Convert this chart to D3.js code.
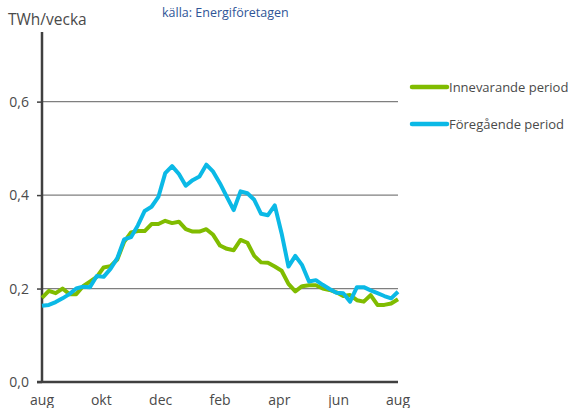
<!DOCTYPE html>
<html>
<head>
<meta charset="utf-8">
<script src="https://cdn.jsdelivr.net/npm/d3@7"></script>
<style>
  body { margin: 0; background: #fff; }
  text { font-family: "Open Sans", sans-serif; }
</style>
</head>
<body>
<svg id="chart" width="568" height="408"></svg>
<script>
// weekly values, aug -> aug
const monthLabels = ['aug', 'okt', 'dec', 'feb', 'apr', 'jun', 'aug'];
const yTicks = [0, 0.2, 0.4, 0.6];

const innevarande = [
  0.180, 0.195, 0.190, 0.200, 0.188, 0.188, 0.205, 0.215, 0.225, 0.245,
  0.248, 0.262, 0.300, 0.320, 0.323, 0.323, 0.338, 0.338, 0.345, 0.340,
  0.343, 0.327, 0.322, 0.322, 0.327, 0.315, 0.292, 0.285, 0.282, 0.304,
  0.298, 0.270, 0.256, 0.255, 0.247, 0.238, 0.210, 0.194, 0.205, 0.207,
  0.207, 0.200, 0.197, 0.192, 0.184, 0.186, 0.175, 0.172, 0.186, 0.165,
  0.165, 0.168, 0.177
];
const foregaende = [
  0.163, 0.165, 0.171, 0.179, 0.188, 0.200, 0.204, 0.203, 0.227, 0.225,
  0.242, 0.265, 0.305, 0.310, 0.335, 0.366, 0.375, 0.396, 0.447, 0.462,
  0.445, 0.420, 0.432, 0.440, 0.465, 0.450, 0.425, 0.396, 0.368, 0.408,
  0.404, 0.390, 0.360, 0.357, 0.378, 0.318, 0.247, 0.270, 0.250, 0.215,
  0.218, 0.208, 0.199, 0.191, 0.190, 0.172, 0.203, 0.203, 0.196, 0.190,
  0.184, 0.179, 0.193
];

const series = [
  { name: 'Innevarande period', values: innevarande, color: '#80bc00' },
  { name: 'Föregående period', values: foregaende, color: '#0bb9e6' }
];

const svg = d3.select('#chart');
const plot = { left: 42, right: 398, top: 32, bottom: 382 };
const textColor = '#4a4a4a';

const x = d3.scaleLinear().domain([0, innevarande.length - 1]).range([plot.left, plot.right]);
const xMonth = d3.scalePoint().domain(d3.range(monthLabels.length)).range([plot.left, plot.right]);
const y = d3.scaleLinear().domain([0, 0.749]).range([plot.bottom, plot.top]);

// gridlines
svg.append('g')
  .selectAll('line')
  .data(yTicks.filter(d => d > 0))
  .enter().append('line')
    .attr('x1', plot.left).attr('x2', plot.right)
    .attr('y1', d => y(d)).attr('y2', d => y(d))
    .style('stroke', '#7f7f7f')
    .style('stroke-width', 1.3);

// y axis
const yAxis = svg.append('g')
  .attr('transform', 'translate(' + plot.left + ',0)')
  .call(d3.axisLeft(y).tickValues(yTicks).tickSize(5).tickPadding(8)
    .tickFormat(d => d3.format('.1f')(d).replace('.', ',')));
yAxis.select('.domain').remove();
yAxis.selectAll('.tick line').style('stroke', '#404040').style('stroke-width', 1.5);
yAxis.selectAll('.tick text')
  .style('font-size', '14px').style('fill', textColor)
  .style('font-family', '"Open Sans", sans-serif');

svg.append('line')
  .attr('x1', plot.left).attr('x2', plot.left)
  .attr('y1', plot.top).attr('y2', plot.bottom + 1)
  .style('stroke', '#404040').style('stroke-width', 2.5);

// x axis
svg.append('line')
  .attr('x1', plot.left - 5).attr('x2', plot.right)
  .attr('y1', plot.bottom).attr('y2', plot.bottom)
  .style('stroke', '#404040').style('stroke-width', 2.5);

svg.append('g')
  .selectAll('text')
  .data(monthLabels)
  .enter().append('text')
    .attr('x', (d, i) => xMonth(i))
    .attr('y', 405)
    .attr('text-anchor', 'middle')
    .style('font-size', '14px')
    .style('fill', textColor)
    .text(d => d);

// lines
const line = d3.line()
  .x((d, i) => x(i))
  .y(d => y(d));

svg.append('g')
  .selectAll('path')
  .data(series)
  .enter().append('path')
    .attr('d', d => line(d.values))
    .style('fill', 'none')
    .style('stroke', d => d.color)
    .style('stroke-width', 4)
    .style('stroke-linejoin', 'round');

// legend
const legend = svg.append('g')
  .selectAll('g')
  .data(series)
  .enter().append('g')
    .attr('transform', (d, i) => 'translate(412,' + (87 + i * 37) + ')');
legend.append('line')
  .attr('x1', 0).attr('x2', 35)
  .style('stroke', d => d.color)
  .style('stroke-width', 4.5)
  .style('stroke-linecap', 'round');
legend.append('text')
  .attr('x', 37).attr('y', 5)
  .style('font-size', '13px')
  .style('fill', textColor)
  .text(d => d.name);

// titles
svg.append('text')
  .attr('x', 8).attr('y', 25)
  .style('font-size', '15.5px')
  .style('fill', textColor)
  .text('TWh/vecka');

svg.append('text')
  .attr('x', 162).attr('y', 17)
  .style('font-size', '12.5px')
  .style('fill', '#2f5597')
  .text('källa: Energiföretagen');
</script>
</body>
</html>
